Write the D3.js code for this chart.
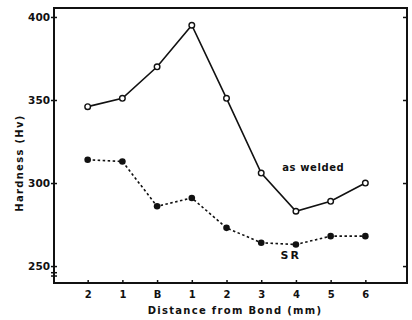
<!DOCTYPE html>
<html><head><meta charset="utf-8">
<script src="https://cdn.jsdelivr.net/npm/d3@7"></script>
<style>
html,body{margin:0;padding:0;background:#fff;}
text{font-family:"DejaVu Sans",sans-serif;font-weight:bold;fill:#111;}
</style></head>
<body><svg id="c" width="412" height="320"></svg>
<script>
const categories = ["2","1","B","1","2","3","4","5","6"];
const asWelded = [346, 351, 370, 395, 351, 306, 283, 289, 300];
const stressRelieved = [314, 313, 286, 291, 273, 264, 263, 268, 268];
const yTicks = [250, 300, 350, 400];

const svg = d3.select("#c");
const L = 54, R = 407, T = 8, B = 283;
const x = d3.scaleLinear().domain([-0.97, 9.2]).range([L, R]);
const y = d3.scaleLinear().domain([239.8, 405.4]).range([B, T]);
const idx = d3.range(categories.length);

// frame
svg.append("rect").attr("x", L).attr("y", T).attr("width", R - L).attr("height", B - T)
  .attr("fill", "none").attr("stroke", "#111").attr("stroke-width", 2);

// x axis
const gx = svg.append("g").attr("transform", `translate(0,${B})`)
  .call(d3.axisBottom(x).tickValues(idx).tickFormat(i => categories[i]).tickSizeInner(-3).tickSizeOuter(0).tickPadding(8));
gx.select(".domain").remove();
gx.selectAll("line").attr("stroke", "#111").attr("stroke-width", 1.5);
gx.selectAll("text").style("font-size", "10px").attr("font-family", null);

// y axis left
const gy = svg.append("g").attr("transform", `translate(${L},0)`)
  .call(d3.axisLeft(y).tickValues(yTicks).tickFormat(d3.format("d")).tickSizeInner(3).tickSizeOuter(0).tickPadding(1));
gy.select(".domain").remove();
gy.selectAll("line").attr("stroke", "#111").attr("stroke-width", 1.5);
gy.selectAll("text").style("font-size", "10.5px").attr("font-family", null);
const gy2 = svg.append("g").attr("transform", `translate(${L},0)`)
  .call(d3.axisLeft(y).tickValues(yTicks).tickFormat("").tickSizeInner(-3).tickSizeOuter(0));
gy2.select(".domain").remove();
gy2.selectAll("line").attr("stroke", "#111").attr("stroke-width", 1.5);

// right axis inward ticks
const gr = svg.append("g").attr("transform", `translate(${R},0)`)
  .call(d3.axisRight(y).tickValues(yTicks).tickFormat("").tickSizeInner(-4).tickSizeOuter(0));
gr.select(".domain").remove();
gr.selectAll("line").attr("stroke", "#111").attr("stroke-width", 1.5);

// axis break marks near bottom of y axis
[y(246), y(244)].forEach(yy => {
  svg.append("line").attr("x1", L - 3).attr("x2", L + 3).attr("y1", yy).attr("y2", yy)
    .attr("stroke", "#111").attr("stroke-width", 1.5);
});

// lines
const line = d3.line().x((d, i) => x(i)).y(d => y(d));
svg.append("path").datum(asWelded).attr("d", line).attr("fill", "none")
  .attr("stroke", "#111").attr("stroke-width", 1.6);
svg.append("path").datum(stressRelieved).attr("d", line).attr("fill", "none")
  .attr("stroke", "#111").attr("stroke-width", 1.6).attr("stroke-dasharray", "2.5,2.5");

svg.selectAll(".aw").data(asWelded).enter().append("circle")
  .attr("cx", (d, i) => x(i)).attr("cy", d => y(d)).attr("r", 2.8)
  .attr("fill", "#fff").attr("stroke", "#111").attr("stroke-width", 1.4);
svg.selectAll(".sr").data(stressRelieved).enter().append("circle")
  .attr("cx", (d, i) => x(i)).attr("cy", d => y(d)).attr("r", 3.3)
  .attr("fill", "#111");

// series labels
svg.append("text").attr("x", x(6.5)).attr("y", y(307.5)).attr("text-anchor", "middle")
  .style("font-size", "10px").style("letter-spacing", "0.6px").text("as welded");
svg.append("text").attr("x", x(5.85)).attr("y", y(254)).attr("text-anchor", "middle")
  .style("font-size", "11px").style("letter-spacing", "2px").text("SR");

// axis titles
svg.append("text").attr("x", 235).attr("y", 314).attr("text-anchor", "middle")
  .style("font-size", "10px").style("letter-spacing", "1.3px").text("Distance from Bond (mm)");
svg.append("text").attr("transform", "translate(23,163) rotate(-90)").attr("text-anchor", "middle")
  .style("font-size", "10px").style("letter-spacing", "1.3px").text("Hardness (Hv)");
</script></body></html>
